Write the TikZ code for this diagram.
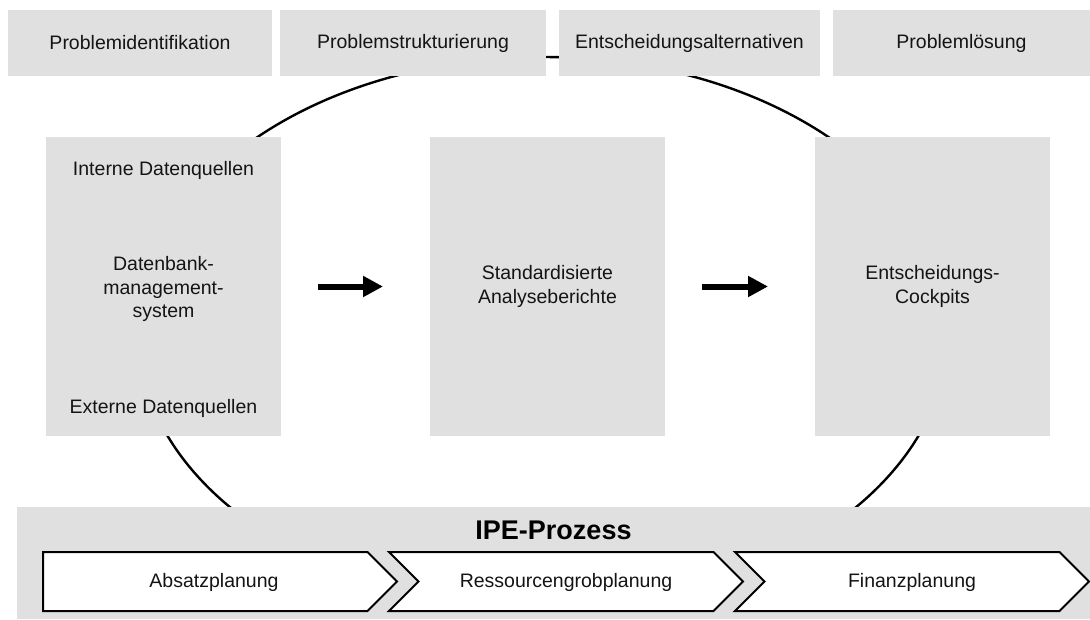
\documentclass[tikz,border=0pt]{standalone}
\usepackage{fontspec}
\setmainfont{Liberation Sans}
\usetikzlibrary{arrows.meta}
\definecolor{boxgray}{RGB}{224,224,224}
\definecolor{inkgray}{RGB}{20,20,20}
\begin{document}
\begin{tikzpicture}[x=1pt,y=-1pt,
  panel/.style={fill=boxgray, draw=none, inner sep=0pt, outer sep=0pt, anchor=north west},
  lbl/.style={font=\fontsize{19.5}{23.5}\selectfont, align=center, text=inkgray, inner sep=0pt},
  cycle line/.style={line width=2.4pt, draw=black},
  flow/.style={line width=6pt, -{Triangle[length=20pt,width=20pt]}, shorten <=37pt, shorten >=47pt},
  chev/.style={fill=white, draw=black, line width=2pt, line join=miter}]
\useasboundingbox (0,0) rectangle (1090,619);

% decision cycle behind the panels
\draw[cycle line] (543,332.4) ellipse [x radius=405pt, y radius=275.4pt];

% phase headers
\node[panel, lbl, minimum width=264pt, minimum height=66pt] (h1) at (8,10) {Problemidentifikation};
\node[panel, lbl, minimum width=266pt, minimum height=66pt] (h2) at (280,10) {Problemstrukturierung};
\node[panel, lbl, minimum width=261pt, minimum height=66pt] (h3) at (559,10) {Entscheidungsalternativen};
\node[panel, lbl, minimum width=257pt, minimum height=66pt] (h4) at (833,10) {Problemlösung};

% system panels
\node[panel, minimum width=235pt, minimum height=299pt] (sa) at (46,137) {};
\node[panel, minimum width=235pt, minimum height=299pt] (sb) at (430,137) {};
\node[panel, minimum width=235pt, minimum height=299pt] (sc) at (815,137) {};

\node[lbl] (sa1) at (163.5,170) {Interne Datenquellen};
\node[lbl] (sa2) at (163.5,289) {Datenbank-\\management-\\system};
\node[lbl] (sa3) at (163.5,408) {Externe Datenquellen};
\node[lbl] (sbt) at (sb.center) {Standardisierte\\Analyseberichte};
\node[lbl] (sct) at (sc.center) {Entscheidungs-\\Cockpits};

\draw[flow] (sa) -- (sb);
\draw[flow] (sb) -- (sc);

% planning process band
\node[panel, minimum width=1073pt, minimum height=112pt] (ipe) at (17,507) {};
\node[font=\bfseries\fontsize{27}{32}\selectfont, text=black, inner sep=0pt] (ipet) at (553.5,530) {IPE-Prozess};

\draw[chev] (43,552) -- (367.5,552) -- (397,581.5) -- (367.5,611) -- (43,611) -- cycle;
\draw[chev] (389,552) -- (713.5,552) -- (743,581.5) -- (713.5,611) -- (389,611) -- (418.5,581.5) -- cycle;
\draw[chev] (735,552) -- (1059.5,552) -- (1089,581.5) -- (1059.5,611) -- (735,611) -- (764.5,581.5) -- cycle;

\node[lbl] (c1) at (214,582) {Absatzplanung};
\node[lbl] (c2) at (566,582) {Ressourcengrobplanung};
\node[lbl] (c3) at (912,582) {Finanzplanung};
\end{tikzpicture}
\end{document}
